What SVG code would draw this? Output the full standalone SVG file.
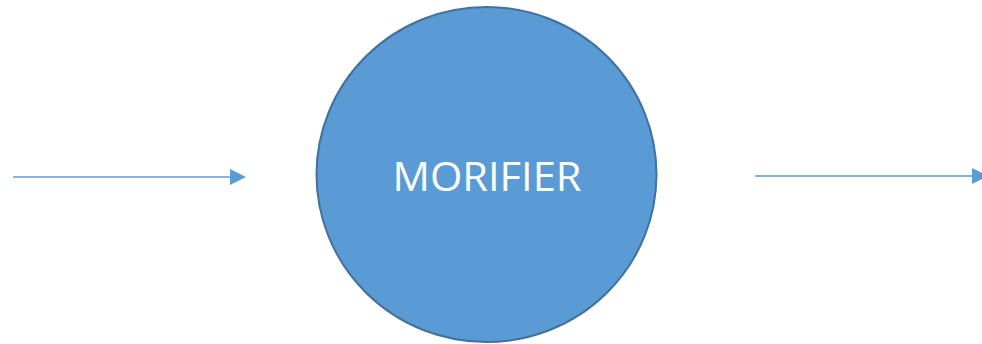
<svg xmlns="http://www.w3.org/2000/svg" width="982" height="344" viewBox="0 0 982 344">
  <style>
    .conn { stroke: #5B9BD5; stroke-width: 1.5; fill: none; }
    .head { fill: #5B9BD5; }
    .node { fill: #5B9BD5; stroke: #41719C; stroke-width: 2; }
    .label { font-family: "Open Sans", "Liberation Sans", sans-serif; font-size: 41px; fill: #FFFFFF; }
  </style>
  <rect width="982" height="344" fill="#FFFFFF"/>
  <g id="connectors">
    <line class="conn" x1="13" y1="177" x2="231" y2="177"/>
    <path class="head" d="M230,169 L246,177 L230,185 Z"/>
    <line class="conn" x1="755" y1="176" x2="973" y2="176"/>
    <path class="head" d="M972,168 L988,176 L972,184 Z"/>
  </g>
  <g id="morifier">
    <ellipse class="node" cx="486.5" cy="174.5" rx="170" ry="167.5"/>
    <text class="label" x="487" y="190.5" text-anchor="middle" textLength="189" lengthAdjust="spacingAndGlyphs">MORIFIER</text>
  </g>
</svg>
